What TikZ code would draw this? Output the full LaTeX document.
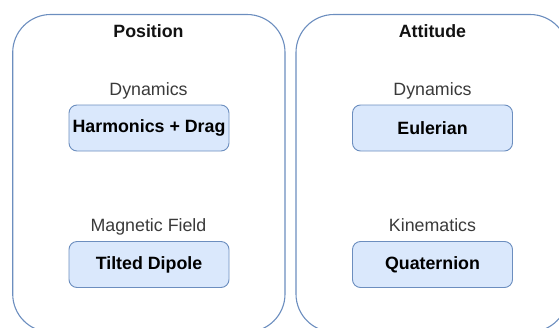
\documentclass[tikz,border=0pt]{standalone}
\usepackage{fontspec}
\setmainfont{Liberation Sans}
\definecolor{boxfill}{HTML}{DAE8FC}
\definecolor{boxline}{HTML}{6C8EBF}
\definecolor{labelgray}{HTML}{3A3A3A}
\begin{document}
\begin{tikzpicture}[x=1pt,y=-1pt,
  panel/.style={draw=boxline,line width=1.1pt,rounded corners=38pt},
  model/.style={draw=boxline,fill=boxfill,line width=0.9pt,rounded corners=8pt,
     minimum width=160pt,minimum height=46pt,inner sep=0pt,
     font=\fontsize{17.8}{20}\selectfont\bfseries,text=black},
  header/.style={anchor=base,font=\fontsize{17.8}{20}\selectfont\bfseries,text=black!93},
  sublabel/.style={anchor=base,font=\fontsize{17.8}{20}\selectfont,text=labelgray}]
\useasboundingbox (0,0) rectangle (559,327);
\clip (0,0) rectangle (559,327);
\draw[panel] (12.7,14.5) rectangle (285,332);
\draw[panel] (296,14.5) rectangle (568,332);
\node[header] (pos) at (148.5,37.5) {Position};
\node[header] (att) at (432.5,37.5) {Attitude};
\node[sublabel] (pdyn) at (148.5,95) {Dynamics};
\node[sublabel] (adyn) at (432.5,95) {Dynamics};
\node[sublabel] (mag) at (148.5,231) {Magnetic Field};
\node[sublabel] (kin) at (432.5,231) {Kinematics};
\node[model] (harm) at (149,128) {Harmonics + Drag};
\node[model] (tilt) at (149,264.5) {Tilted Dipole};
\node[model] (eul) at (432.5,128) {Eulerian};
\node[model] (quat) at (432.5,264.5) {Quaternion};
\end{tikzpicture}
\end{document}
